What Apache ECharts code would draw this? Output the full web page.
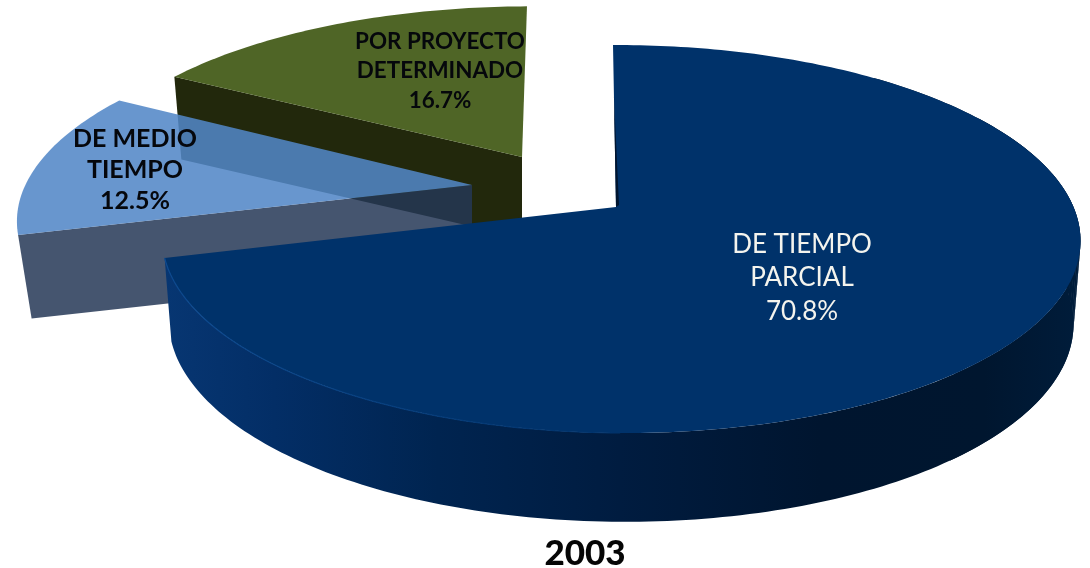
<!DOCTYPE html>
<html>
<head>
<meta charset="utf-8">
<style>html,body{margin:0;padding:0;background:#fff}#c{width:1090px;height:568px}</style>
<script src="https://cdn.jsdelivr.net/npm/echarts@6/dist/echarts.min.js"></script>
</head>
<body>
<div id="c"></div>
<script>
// ---- data ----
const categories = ['DE TIEMPO\nPARCIAL', 'DE MEDIO\nTIEMPO', 'POR PROYECTO\nDETERMINADO'];
const values = [70.8, 12.5, 16.7];
const year = '2003';

// ---- layout of each exploded slice (not data) ----
const R = 452, KR = 188.7, P = 0.165, Q = 0.01;
const layouts = [
  { ax: 616, ay: 207, sx: 1.002, sy: 1, shear: 0.0185, dy: 82, bs: 0.985, by: 1.03, z: 20,
    top: '#00326a', side: null,
    label: { x: 802, y: 278, color: '#f4f4ee', size: 26, weight: 400, lh: 33.5 } },
  { ax: 472, ay: 185, sx: 0.998, sy: 0.98, shear: -0.068, dy: 85, bs: 0.97, by: 0.97, z: 10,
    top: 'rgba(81,134,199,0.87)', side: 'rgba(36,55,86,0.85)',
    label: { x: 135, y: 170, color: '#05070c', size: 25, weight: 700, lh: 31 } },
  { ax: 522, ay: 157, sx: 0.975, sy: 0.93, shear: -0.033, dy: 81, bs: 0.98, by: 0.98, z: 1,
    top: '#4f6526', side: '#22280c',
    label: { x: 440, y: 71, color: '#05070c', size: 22.4, weight: 700, lh: 29.5 } }
];

function project(deg, l, bottom) {
  const a = deg * Math.PI / 180, u = Math.sin(a), v = -Math.cos(a);
  const s = 1 / (1 - P * v - Q * u);
  const yOff = KR * l.sy * v * s;
  const x = l.ax + R * l.sx * (bottom ? l.bs : 1) * u * s + l.shear * yOff;
  const y = l.ay + yOff * (bottom ? l.by : 1) + (bottom ? l.dy : 0);
  return [x, y];
}
function arc(a0, a1, l, bottom) {
  const pts = [], n = Math.ceil(Math.abs(a1 - a0));
  for (let i = 0; i <= n; i++) pts.push(project(a0 + (a1 - a0) * i / n, l, bottom));
  return pts;
}
const total = values.reduce((s, v) => s + v, 0);

function wallFill() {
  return new echarts.graphic.LinearGradient(165, 0, 1075, 0, [
    { offset: 0, color: '#073672' }, { offset: 0.12, color: '#032e66' },
    { offset: 0.3, color: '#002450' }, { offset: 0.5, color: '#001c40' },
    { offset: 0.72, color: '#00152f' }, { offset: 0.9, color: '#00162f' },
    { offset: 1, color: '#001c3a' }
  ], true);
}

function renderItem(params, api) {
  const i = params.dataIndex, l = layouts[i];
  let start = 0;
  for (let j = 0; j < i; j++) start += values[j];
  const a0 = start / total * 360, a1 = (start + api.value(0)) / total * 360;
  const apex = [l.ax, l.ay], apexB = [l.ax, l.ay + l.dy];
  const topArc = arc(a0, a1, l, false);
  const children = [];

  if (i === 0) {
    // outer wall of the big slice: only the part that can be seen from the front
    const wa = a0 + 40;
    children.push({
      type: 'polygon', z2: l.z,
      shape: { points: arc(wa, a1, l, false).concat(arc(wa, a1, l, true).reverse()) },
      style: { fill: wallFill() }
    });
    // segment quads round the right tip so the silhouette is a straight tangent
    for (let a = 60; a < 140; a += 2) {
      children.push({
        type: 'polygon', z2: l.z,
        shape: { points: [project(a, l, false), project(a + 2, l, false), project(a + 2, l, true), project(a, l, true)] },
        style: { fill: wallFill() }
      });
    }
  } else {
    // radial wall facing the viewer
    const outer = project(a0, l, false), outerB = project(a0, l, true);
    children.push({
      type: 'polygon', z2: l.z,
      shape: { points: [apex, outer, outerB, apexB] },
      style: { fill: l.side }
    });
  }
  children.push({
    type: 'polygon', z2: l.z + 1,
    shape: { points: [apex].concat(topArc) },
    style: { fill: l.top }
  });
  if (i === 0) {
    // thin bevel highlight along the front rim
    children.push({
      type: 'polyline', z2: l.z + 2,
      shape: { points: arc(a1, 180, l, false) },
      style: { fill: null, lineWidth: 1.2, stroke: new echarts.graphic.LinearGradient(165, 0, 620, 0, [
        { offset: 0, color: '#0d4a90' }, { offset: 1, color: '#00326a' }
      ], true) }
    });
    // dark sliver of the inner wall seen at the notch
    const s0 = project(a0, l, false), t = 0.68;
    children.push({
      type: 'polygon', z2: l.z + 2,
      shape: { points: [[l.ax + (s0[0] - l.ax) * t, l.ay + (s0[1] - l.ay) * t], apex, [l.ax + 3, l.ay - 2]] },
      style: { fill: '#00152f' }
    });
  }
  children.push({
    type: 'text', z2: 50,
    style: {
      x: l.label.x, y: l.label.y,
      text: categories[i] + '\n' + api.value(0).toFixed(1) + '%',
      align: 'center', verticalAlign: 'middle',
      font: l.label.weight + ' ' + l.label.size + 'px Lato, "Open Sans", sans-serif',
      lineHeight: l.label.lh, fill: l.label.color
    }
  });
  return { type: 'group', children };
}

const chart = echarts.init(document.getElementById('c'), null, { renderer: 'canvas' });
chart.setOption({
  animation: false,
  backgroundColor: '#fff',
  title: {
    text: year, left: 580, top: 531, textAlign: 'center',
    textStyle: { fontFamily: 'Lato, "Open Sans", sans-serif', fontWeight: 900, fontSize: 35, color: '#050505' }
  },
  series: [{
    type: 'custom',
    coordinateSystem: 'none',
    silent: true,
    data: values.map((v, i) => ({ name: categories[i], value: [v] })),
    renderItem
  }]
});
</script>
</body>
</html>
